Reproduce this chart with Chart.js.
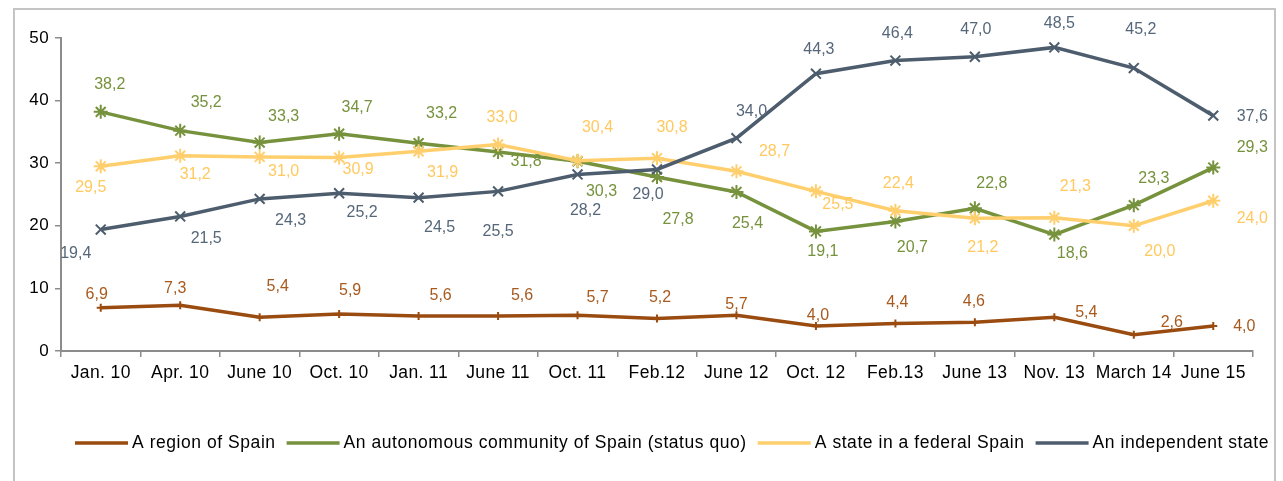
<!DOCTYPE html>
<html>
<head>
<meta charset="utf-8">
<script src="https://cdn.jsdelivr.net/npm/chart.js@4/dist/chart.umd.min.js"></script>
<style>
  html, body { margin: 0; padding: 0; background: #fff; }
  #wrap { width: 1283px; height: 481px; position: relative; }
</style>
</head>
<body>
<div id="wrap"><canvas id="c" width="1283" height="481"></canvas></div>
<script>
var categories = ["Jan. 10", "Apr. 10", "June 10", "Oct. 10", "Jan. 11", "June 11", "Oct. 11",
    "Feb.12", "June 12", "Oct. 12", "Feb.13", "June 13", "Nov. 13", "March 14", "June 15"];

var regionOfSpain = [6.9, 7.3, 5.4, 5.9, 5.6, 5.6, 5.7, 5.2, 5.7, 4.0, 4.4, 4.6, 5.4, 2.6, 4.0];
var autonomousCommunity = [38.2, 35.2, 33.3, 34.7, 33.2, 31.8, 30.3, 27.8, 25.4, 19.1, 20.7, 22.8, 18.6, 23.3, 29.3];
var federalState = [29.5, 31.2, 31.0, 30.9, 31.9, 33.0, 30.4, 30.8, 28.7, 25.5, 22.4, 21.2, 21.3, 20.0, 24.0];
var independentState = [19.4, 21.5, 24.3, 25.2, 24.5, 25.5, 28.2, 29.0, 34.0, 44.3, 46.4, 47.0, 48.5, 45.2, 37.6];

var yTicks = [0, 10, 20, 30, 40, 50];

// where each value label sits, relative to its point (dx, dy)
var regionLabelPos = [[-4,-13],[-5,-17],[18,-31],[11,-23],[22,-20],[24,-20],[20,-18],[3,-21],
    [0,-11],[2,-10],[2,-21],[-1,-21],[32,-5],[38,-12],[31,1]];
var autonomousLabelPos = [[9,-27],[26,-28],[24,-26],[18,-26],[23,-30],[28,10],[24,30],[21,43],
    [11,32],[7,20],[17,26],[17,-25],[18,19],[20,-27],[39,-20]];
var federalLabelPos = [[-10,21],[15,19],[24,15],[19,12],[24,21],[4,-27],[20,-33],[15,-31],
    [38,-20],[22,13],[3,-27],[8,29],[21,-31],[26,26],[39,18]];
var independentLabelPos = [[-25,24],[26,22],[31,22],[23,19],[21,30],[0,40],[8,36],[-9,25],
    [15,-27],[3,-24],[2,-27],[1,-27],[5,-24],[7,-38],[39,1]];

var FONT = "'Liberation Sans', Arial, sans-serif";

function fmt(v) {
    return v.toFixed(1).replace(".", ",");
}

function series(label, data, color, labelColor, style, radius, order, labelPos) {
    return {
        label: label,
        data: data,
        borderColor: color,
        backgroundColor: color,
        borderWidth: 3.5,
        tension: 0,
        pointStyle: style,
        pointRadius: radius,
        pointBorderWidth: 2,
        pointBorderColor: color,
        pointHoverRadius: radius,
        order: order,
        labelColor: labelColor,
        labelPos: labelPos
    };
}

var valueLabels = {
    id: "valueLabels",
    afterDatasetsDraw: function(chart) {
        var ctx = chart.ctx;
        ctx.save();
        ctx.font = "16px " + FONT;
        ctx.letterSpacing = "0px";
        ctx.textAlign = "center";
        ctx.textBaseline = "middle";
        chart.data.datasets.forEach(function(ds, di) {
            var meta = chart.getDatasetMeta(di);
            ctx.fillStyle = ds.labelColor;
            meta.data.forEach(function(pt, i) {
                var off = ds.labelPos[i];
                ctx.fillText(fmt(ds.data[i]), pt.x + off[0], pt.y + off[1]);
            });
        });
        ctx.restore();
    }
};

var frameAndLegend = {
    id: "frameAndLegend",
    beforeDraw: function(chart) {
        var ctx = chart.ctx;
        ctx.save();
        ctx.strokeStyle = "#c4c4c4";
        ctx.lineWidth = 2;
        ctx.strokeRect(14, 9, 1261, 480);
        ctx.restore();
        // the original text runs a little wide
        ctx.letterSpacing = "0.4px";
    },
    afterDraw: function(chart) {
        var ctx = chart.ctx;
        ctx.save();
        ctx.font = "17.5px " + FONT;
        ctx.letterSpacing = "0.55px";
        ctx.textBaseline = "middle";
        var x = 75, y = 443;
        chart.data.datasets.forEach(function(ds) {
            ctx.strokeStyle = ds.borderColor;
            ctx.lineWidth = 3.5;
            ctx.beginPath();
            ctx.moveTo(x, y);
            ctx.lineTo(x + 53, y);
            ctx.stroke();
            ctx.lineWidth = 2;
            Chart.helpers.drawPoint(ctx, {pointStyle: ds.pointStyle, radius: 5, rotation: 0}, x + 26.5, y);
            ctx.fillStyle = "#000";
            ctx.fillText(ds.label, x + 57, y);
            x += 57 + ctx.measureText(ds.label).width + 11;
        });
        ctx.restore();
    }
};

new Chart(document.getElementById("c"), {
    type: "line",
    data: {
        labels: categories,
        datasets: [
            series("A region of Spain", regionOfSpain, "#9a4b10", "#a85a1e", "cross", 4, 3, regionLabelPos),
            series("An autonomous community of Spain (status quo)", autonomousCommunity, "#76923c", "#76923c", "star", 7, 2, autonomousLabelPos),
            series("A state in a federal Spain", federalState, "#ffcf6e", "#ffc95f", "star", 7, 1, federalLabelPos),
            series("An independent state", independentState, "#4d5d6d", "#56677a", "crossRot", 7, 0, independentLabelPos)
        ]
    },
    options: {
        responsive: false,
        animation: false,
        events: [],
        layout: { padding: { left: 0, top: 38, right: 30, bottom: 90 } },
        plugins: {
            legend: { display: false },
            tooltip: { enabled: false }
        },
        scales: {
            x: {
                offset: true,
                afterFit: function(scale) { scale.height = 40; },
                grid: { offset: true, drawOnChartArea: false, drawTicks: true, tickLength: 6, color: "#8c8c8c", lineWidth: 1.5 },
                border: { color: "#8c8c8c", width: 2 },
                ticks: { color: "#000", font: { family: FONT, size: 17.5 }, padding: 6, maxRotation: 0, autoSkip: false }
            },
            y: {
                min: 0,
                max: 50,
                afterFit: function(scale) { scale.width = 61; },
                afterBuildTicks: function(scale) {
                    scale.ticks = yTicks.map(function(v) { return {value: v}; });
                },
                grid: { drawOnChartArea: false, drawTicks: true, tickLength: 6, color: "#8c8c8c", lineWidth: 1.5 },
                border: { color: "#8c8c8c", width: 2 },
                ticks: { color: "#000", font: { family: FONT, size: 17 }, padding: 6 }
            }
        }
    },
    plugins: [valueLabels, frameAndLegend]
});
</script>
</body>
</html>
